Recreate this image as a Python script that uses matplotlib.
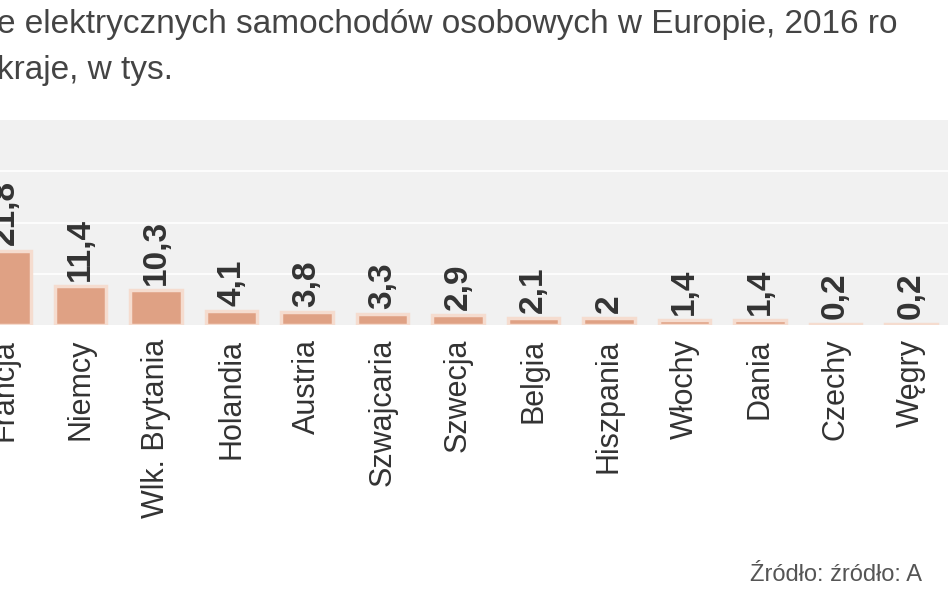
import matplotlib
matplotlib.use("Agg")
import matplotlib.pyplot as plt

countries = ["Francja", "Niemcy", "Wlk. Brytania", "Holandia", "Austria", "Szwajcaria",
             "Szwecja", "Belgia", "Hiszpania", "Włochy", "Dania", "Czechy", "Węgry"]
values = [21.8, 11.4, 10.3, 4.1, 3.8, 3.3, 2.9, 2.1, 2.0, 1.4, 1.4, 0.2, 0.2]
labels = ["21,8", "11,4", "10,3", "4,1", "3,8", "3,3", "2,9", "2,1", "2", "1,4", "1,4", "0,2", "0,2"]

fam = ["Liberation Sans Narrow", "Liberation Sans", "DejaVu Sans"]
plt.rcParams["font.family"] = fam

fig = plt.figure(figsize=(9.48, 5.93), dpi=100)
ax = fig.add_axes([0, 1 - 325/593, 1, 205/593])
ax.set_facecolor("#f1f1f1")
x = list(range(len(countries)))
ax.bar(x, values, width=0.68, color="#dfa184", edgecolor="#f5dccf", linewidth=2.5, zorder=3)
ax.set_xlim(-5/75.5, 943/75.5)
ax.set_ylim(0, 60)
for y in (15, 30, 45):
    ax.axhline(y, color="white", lw=1.2, zorder=1)
for s in ax.spines.values():
    s.set_visible(False)
ax.set_yticks([])
ax.set_xticks(x)
ax.set_xticklabels(countries, rotation=90, fontsize=22, color="#333333", va="top")
ax.tick_params(axis="x", length=0, pad=10)
for xi, v, t in zip(x, values, labels):
    ax.text(xi, v + 1.5, t, rotation=90, ha="center", va="bottom", fontsize=24,
            fontweight="bold", color="#333333", zorder=4)

fig.text(-0.003, 1 - 25/593, "e elektrycznych samochodów osobowych w Europie, 2016 ro",
         fontsize=24, color="#444444", va="center", ha="left")
fig.text(-0.003, 1 - 70/593, "kraje, w tys.", fontsize=24, color="#444444", va="center", ha="left")
fig.text(750/948, 1 - 575/593, "Źródło: źródło: A", fontsize=17, color="#555555",
         va="center", ha="left")
fig.savefig("out.png", dpi=100)
